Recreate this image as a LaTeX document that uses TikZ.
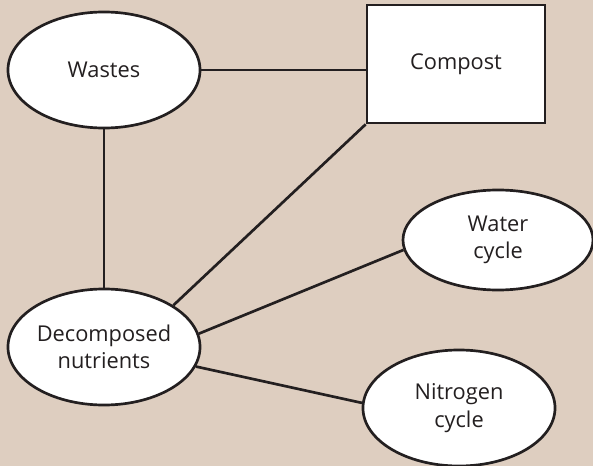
\documentclass[tikz,border=0pt]{standalone}
\usepackage{fontspec}
\setmainfont{Open Sans}
\usepackage{tikz}
\usetikzlibrary{shapes.geometric}
\definecolor{paper}{RGB}{222,206,192}
\definecolor{ink}{RGB}{35,31,32}

\begin{document}
\begin{tikzpicture}[
  x=0.025cm, y=-0.025cm,
  font=\fontsize{15.5}{19.5}\selectfont,
  oval/.style={ellipse, draw=ink, fill=white, line width=1.9pt, inner sep=0pt,
    align=center, text=ink, minimum width=4.8cm, minimum height=2.9cm},
  rbox/.style={rectangle, draw=ink, fill=white, line width=1.9pt, inner sep=0pt,
    text=ink, minimum width=4.45cm, minimum height=2.95cm},
  link/.style={draw=ink, line width=1.9pt}
]
\fill[paper] (0,0) rectangle (593,466);
\useasboundingbox (0,0) rectangle (593,466);
\node[oval] (wastes) at (104,70) {Wastes};
\node[rbox] (comp) at (456,64) {Compost};
\node[oval] (dec) at (104,347) {Decomposed\\nutrients};
\node[oval, minimum width=4.75cm, minimum height=2.5cm] (water) at (498,240) {Water\\cycle};
\node[oval] (nitro) at (459,408) {Nitrogen\\cycle};
\draw[link] (wastes.east) -- (wastes.east -| comp.west);
\draw[link] (wastes.south) -- (dec.north);
\draw[link] (dec.31) -- (comp.south west);
\draw[link] (dec.8) -- (water.186);
\draw[link] (dec.-12) -- (nitro.177);
\end{tikzpicture}
\end{document}
